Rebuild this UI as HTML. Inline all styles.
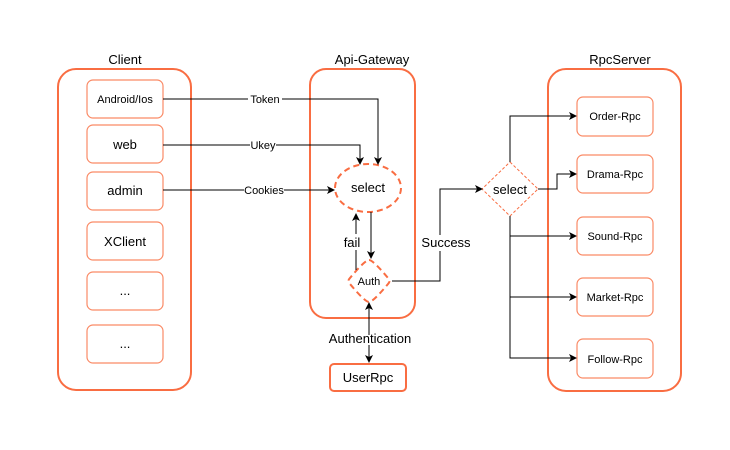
<!DOCTYPE html>
<html><head><meta charset="utf-8"><style>
html,body{margin:0;padding:0;background:#fff;}
svg{display:block;font-family:"Liberation Sans",sans-serif;}
</style></head><body>
<svg width="730" height="450" viewBox="0 0 730 450" xmlns="http://www.w3.org/2000/svg">
<defs>
<marker id="a" markerWidth="8" markerHeight="8" refX="7" refY="4" orient="auto" markerUnits="userSpaceOnUse">
<path d="M0,0 L8,4 L0,8 L2,4 z" fill="#000"/></marker>
</defs>
<g fill="none" stroke="#f96d42">
<rect x="58" y="69" width="133" height="321" rx="18" stroke-width="2"/>
<rect x="310" y="69" width="105" height="249" rx="16" stroke-width="2"/>
<rect x="548" y="69" width="133" height="322" rx="18" stroke-width="2"/>
<g stroke-width="1.2" stroke="#fa8a66">
<rect x="87" y="80" width="76" height="38" rx="6"/>
<rect x="87" y="125" width="76" height="38" rx="6"/>
<rect x="87" y="172" width="76" height="38" rx="6"/>
<rect x="87" y="222" width="76" height="38" rx="6"/>
<rect x="87" y="272" width="76" height="38" rx="6"/>
<rect x="87" y="325" width="76" height="38" rx="6"/>
<rect x="577" y="97" width="76" height="39" rx="6"/>
<rect x="577" y="155" width="76" height="38" rx="6"/>
<rect x="577" y="217" width="76" height="38" rx="6"/>
<rect x="577" y="278" width="76" height="38" rx="6"/>
<rect x="577" y="339" width="76" height="39" rx="6"/>
</g>
<rect x="330" y="364" width="76" height="27" rx="4" stroke-width="2"/>
<ellipse cx="368" cy="188" rx="33" ry="24" stroke-width="2" stroke-dasharray="6,4"/>
<path d="M369,260 Q373,260 388,278 Q391,281 388,284 Q373,302 369,302 Q365,302 350,284 Q347,281 350,278 Q365,260 369,260 z" stroke-width="2" stroke-dasharray="6,4"/>
<path d="M510,162 L538,189 L510,216 L482,189 z" stroke-width="1" stroke-dasharray="3,2"/>
</g>
<g fill="none" stroke="#000" stroke-width="1">
<path d="M163,99 H378 V164" marker-end="url(#a)"/>
<path d="M163,145 H360 V164" marker-end="url(#a)"/>
<path d="M163,190 H334" marker-end="url(#a)"/>
<path d="M356,270 V214" marker-end="url(#a)"/>
<path d="M371,212 V258" marker-end="url(#a)"/>
<path d="M392,281 H440 V189 H482" marker-end="url(#a)"/>
<path d="M369,335 V303" marker-end="url(#a)"/>
<path d="M369,345 V362" marker-end="url(#a)"/>
<path d="M510,162 V116 H576" marker-end="url(#a)"/>
<path d="M538,189 H557 V174 H576" marker-end="url(#a)"/>
<path d="M510,216 V358 H576" marker-end="url(#a)"/>
<path d="M510,236 H576" marker-end="url(#a)"/>
<path d="M510,297 H576" marker-end="url(#a)"/>
</g>
<g font-size="11" text-anchor="middle" fill="#000">
<rect x="248" y="92" width="34" height="13" fill="#fff"/>
<text x="265" y="103">Token</text>
<rect x="250" y="138" width="26" height="13" fill="#fff"/>
<text x="263" y="149">Ukey</text>
<rect x="244" y="183" width="40" height="13" fill="#fff"/>
<text x="264" y="194">Cookies</text>
<text x="125" y="103">Android/Ios</text>
<text x="615" y="120">Order-Rpc</text>
<text x="615" y="178">Drama-Rpc</text>
<text x="615" y="240">Sound-Rpc</text>
<text x="615" y="301">Market-Rpc</text>
<text x="615" y="363">Follow-Rpc</text>
<text x="369" y="285">Auth</text>
</g>
<g font-size="13" text-anchor="middle" fill="#000">
<text x="125" y="64">Client</text>
<text x="372" y="64">Api-Gateway</text>
<text x="620" y="64">RpcServer</text>
<text x="125" y="149">web</text>
<text x="125" y="195">admin</text>
<text x="125" y="246">XClient</text>
<text x="125" y="295">...</text>
<text x="125" y="348">...</text>
<text x="368" y="192">select</text>
<text x="510" y="194">select</text>
<rect x="341" y="234" width="22" height="16" fill="#fff"/>
<text x="352" y="247">fail</text>
<rect x="420" y="235" width="52" height="16" fill="#fff"/>
<text x="446" y="247">Success</text>
<text x="370" y="343">Authentication</text>
<text x="368" y="382">UserRpc</text>
</g>
</svg>
</body></html>
